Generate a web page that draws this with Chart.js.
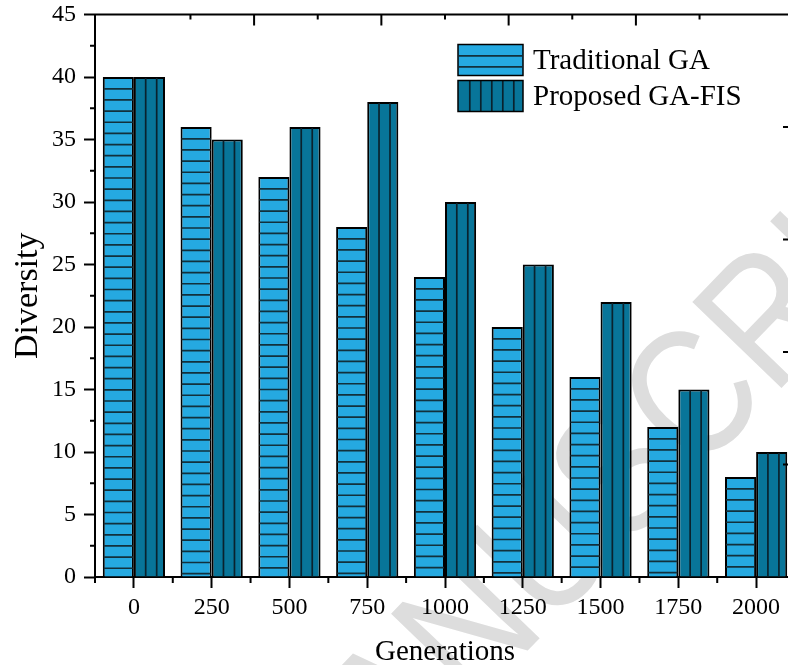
<!DOCTYPE html>
<html><head><meta charset="utf-8">
<script src="https://cdn.jsdelivr.net/npm/chart.js@4/dist/chart.umd.min.js"></script>
<style>
html,body{margin:0;padding:0;background:#fff;overflow:hidden;}
#wrap{width:788px;height:665px;overflow:hidden;position:relative;}
#box{width:800px;height:665px;position:absolute;left:0;top:0;}
</style></head><body>
<div id="wrap"><div id="box"><canvas id="c"></canvas></div></div>
<script>
const categories = ['0','250','500','750','1000','1250','1500','1750','2000'];
const traditionalGA = [40,36,32,28,24,20,16,12,8];
const proposedGAFIS = [40,35,36,38,30,25,22,15,10];
const seriesNames = ['Traditional GA','Proposed GA-FIS'];
const yMinorTicks = [2.5,7.5,12.5,17.5,22.5,27.5,32.5,37.5,42.5];
const frameMajor = [1,2,3,4];
const frameMinor = [0.5,1.5,2.5,3.5,4.5];
const watermarkText = 'ACCEPTED MANUSCRIPT';

const LIGHT = '#25a9e1';
const DARK = '#087599';
const SERIF = '"Liberation Serif", "Times New Roman", serif';

function hatch(ctx, left, top, right, bottom, dir) {
  ctx.save();
  ctx.beginPath();
  ctx.rect(left + 1, top + 1, right - left - 2, bottom - top - 1);
  ctx.clip();
  ctx.lineWidth = 1.7;
  ctx.beginPath();
  if (dir === 'h') {
    ctx.strokeStyle = '#12303c';
    for (let y = top + 11.8; y < bottom - 1; y += 11.15) {
      ctx.moveTo(left, y); ctx.lineTo(right, y);
    }
  } else {
    ctx.strokeStyle = '#0a222d';
    for (let x = left + 11.8; x < right - 1.5; x += 11) {
      ctx.moveTo(x, top); ctx.lineTo(x, bottom);
    }
  }
  ctx.stroke();
  ctx.restore();
}

const watermark = {
  id: 'watermark',
  beforeDraw(chart) {
    const ctx = chart.ctx;
    ctx.save();
    const size = 180;
    ctx.font = size + 'px "Liberation Sans", Arial, sans-serif';
    ctx.fillStyle = '#dddddd';
    ctx.textBaseline = 'alphabetic';
    ctx.textAlign = 'left';
    const offs = ctx.measureText('ACCEPTED MANUS').width + ctx.measureText('C').width / 2;
    ctx.translate(688, 392);
    ctx.rotate(-46 * Math.PI / 180);
    ctx.scale(0.85, 1);
    ctx.fillText(watermarkText, -offs, size * 0.716 / 2);
    ctx.restore();
  }
};

const hatchPlugin = {
  id: 'hatchPlugin',
  afterDatasetsDraw(chart) {
    const ctx = chart.ctx;
    chart.data.datasets.forEach((ds, di) => {
      const meta = chart.getDatasetMeta(di);
      meta.data.forEach(el => {
        const p = el.getProps(['x', 'y', 'base', 'width'], true);
        const l = p.x - p.width / 2, r = p.x + p.width / 2;
        hatch(ctx, l, Math.min(p.y, p.base), r, Math.max(p.y, p.base), di === 0 ? 'h' : 'v');
      });
    });
  }
};

const framePlugin = {
  id: 'framePlugin',
  afterDraw(chart) {
    const ctx = chart.ctx;
    const a = chart.chartArea;
    const xs = chart.scales.x, ys = chart.scales.y;
    const xt = chart.scales.xTop, yr = chart.scales.yRight;
    ctx.save();
    ctx.strokeStyle = '#000';
    ctx.lineWidth = 2;
    ctx.beginPath();
    ctx.moveTo(a.left - 1, a.top); ctx.lineTo(a.right, a.top);
    ctx.moveTo(a.right, a.top); ctx.lineTo(a.right, a.bottom);
    yMinorTicks.forEach(v => { const y = ys.getPixelForValue(v); ctx.moveTo(a.left - 5, y); ctx.lineTo(a.left, y); });
    const step = xs.getPixelForValue(1) - xs.getPixelForValue(0);
    for (let k = 0; k <= categories.length; k++) {
      const x = xs.getPixelForValue(0) - step / 2 + k * step;
      ctx.moveTo(x, a.bottom); ctx.lineTo(x, a.bottom + 6);
    }
    frameMajor.forEach(v => { const x = xt.getPixelForValue(v); ctx.moveTo(x, a.top); ctx.lineTo(x, a.top + 11); });
    frameMinor.forEach(v => { const x = xt.getPixelForValue(v); ctx.moveTo(x, a.top); ctx.lineTo(x, a.top + 5); });
    frameMajor.forEach(v => { const y = yr.getPixelForValue(v); ctx.moveTo(a.right, y); ctx.lineTo(a.right - 12, y); });
    frameMinor.forEach(v => { const y = yr.getPixelForValue(v); ctx.moveTo(a.right, y); ctx.lineTo(a.right - 5, y); });
    ctx.stroke();

    // legend
    const bx = a.left + 363, bw = 65, bh = 31;
    const rows = [a.top + 30, a.top + 66];
    ctx.font = '29px ' + SERIF;
    ctx.textBaseline = 'middle';
    ctx.textAlign = 'left';
    chart.data.datasets.forEach((ds, i) => {
      const by = rows[i];
      ctx.fillStyle = ds.backgroundColor;
      ctx.fillRect(bx, by, bw, bh);
      hatch(ctx, bx, by - 0.5, bx + bw, by + bh, i === 0 ? 'h' : 'v');
      ctx.lineWidth = 1.5;
      ctx.strokeStyle = '#000';
      ctx.strokeRect(bx, by, bw, bh);
      ctx.fillStyle = '#000';
      ctx.fillText(ds.label, bx + 75, by + bh / 2 + 1);
    });
    ctx.restore();
  }
};

new Chart(document.getElementById('c'), {
  type: 'bar',
  data: {
    labels: categories,
    datasets: [
      { label: seriesNames[0], data: traditionalGA, backgroundColor: LIGHT, borderColor: '#000', borderWidth: 2, categoryPercentage: 0.8, barPercentage: 1.0 },
      { label: seriesNames[1], data: proposedGAFIS, backgroundColor: DARK, borderColor: '#000', borderWidth: 2, categoryPercentage: 0.8, barPercentage: 1.0 }
    ]
  },
  options: {
    responsive: true,
    maintainAspectRatio: false,
    animation: false,
    devicePixelRatio: 1,
    layout: { padding: { left: 0, top: 14.5, right: 5, bottom: 0 } },
    plugins: { legend: { display: false }, tooltip: { enabled: false } },
    scales: {
      x: {
        type: 'category',
        offset: true,
        grid: { display: true, drawOnChartArea: false, offset: false, tickLength: 11, tickWidth: 2, tickColor: '#000' },
        border: { display: true, color: '#000', width: 2 },
        ticks: { color: '#000', font: { family: SERIF, size: 24 }, padding: 5, maxRotation: 0 },
        title: { display: true, text: 'Generations', color: '#000', font: { family: SERIF, size: 29, lineHeight: 1 }, padding: { top: 0, bottom: -2 } },
        afterFit(s) { s.height = 88; s.paddingLeft = 0; s.paddingRight = 0; }
      },
      y: {
        type: 'linear',
        min: 0, max: 45,
        ticks: { stepSize: 5, color: '#000', font: { family: SERIF, size: 24 }, padding: 8 },
        grid: { display: true, drawOnChartArea: false, tickLength: 11, tickWidth: 2, tickColor: '#000' },
        border: { display: true, color: '#000', width: 2 },
        title: { display: true, text: 'Diversity', color: '#000', font: { family: SERIF, size: 34 }, padding: { top: 8, bottom: 0 } },
        afterFit(s) { s.width = 95; s.paddingTop = 0; s.paddingBottom = 0; }
      },
      xTop: { type: 'linear', position: 'top', display: false, min: 0, max: 5 },
      yRight: { type: 'linear', position: 'right', display: false, min: 0, max: 5 }
    }
  },
  plugins: [watermark, hatchPlugin, framePlugin]
});
</script>
</body></html>
